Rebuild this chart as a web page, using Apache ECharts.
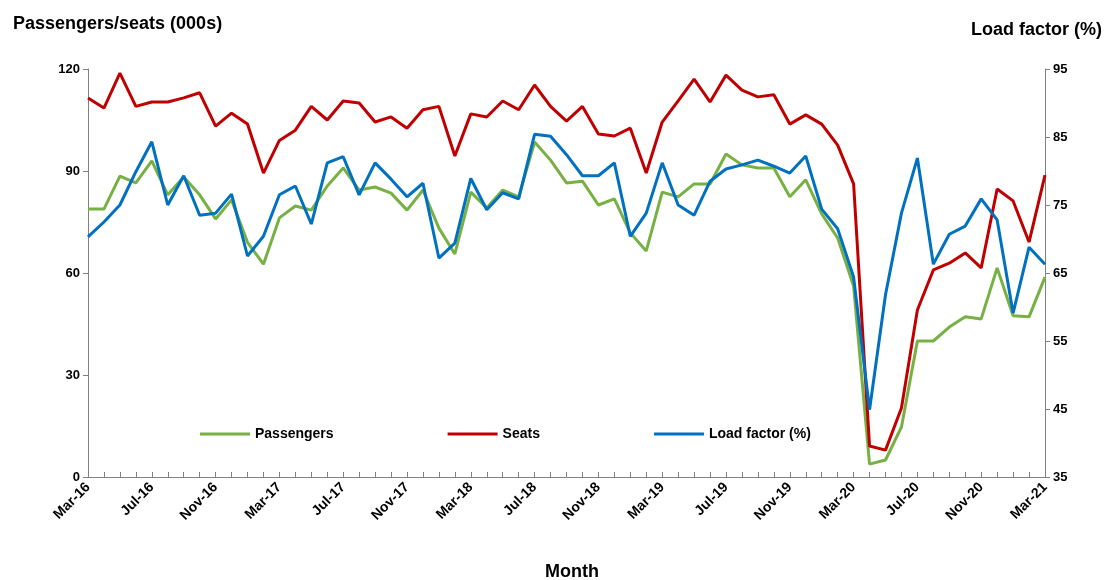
<!DOCTYPE html>
<html>
<head>
<meta charset="utf-8">
<script src="https://cdn.jsdelivr.net/npm/echarts@6/dist/echarts.min.js"></script>
<style>html,body{margin:0;padding:0;background:#fff}#main{width:1113px;height:580px}</style>
</head>
<body>
<div id="main"></div>
<script>
const monthNames = ['Jan', 'Feb', 'Mar', 'Apr', 'May', 'Jun', 'Jul', 'Aug', 'Sep', 'Oct', 'Nov', 'Dec']
const months = []
for (let i = 0; i < 61; i++) {
  let m = (2 + i) % 12
  let y = 16 + Math.floor((2 + i) / 12)
  months.push(monthNames[m] + '-' + y)
}
const passengers = [78.8, 78.8, 88.5, 86.5, 93, 83, 88.2, 83, 75.9, 81.5, 69, 62.6, 76.2, 79.7, 78.5, 85.6, 90.9, 84.4, 85.3, 83.5, 78.5, 84.4, 73.2, 65.6, 83.8, 79.1, 84.4, 82.4, 98.5, 93.2, 86.5, 87, 80, 81.8, 71.8, 66.5, 83.8, 82.4, 86.2, 86.2, 95, 91.8, 90.9, 90.9, 82.4, 87.4, 77.4, 70.3, 56.2, 3.8, 5, 14.7, 40, 40, 44.1, 47.1, 46.5, 61.5, 47.4, 47.1, 58.8]
const seats = [111.5, 108.5, 118.8, 109, 110.3, 110.3, 111.5, 113, 103.2, 107, 103.8, 89.4, 99, 102, 109, 105, 110.6, 110, 104.4, 105.9, 102.6, 108, 109, 94.4, 106.8, 105.9, 110.6, 108, 115.3, 109, 104.7, 109, 100.9, 100.3, 102.6, 89.4, 104.4, 110.6, 117, 110.3, 118.2, 113.8, 111.8, 112.4, 103.8, 106.5, 103.8, 97.6, 86.2, 9.1, 7.9, 20.3, 49.1, 60.9, 62.9, 65.9, 61.5, 84.7, 81.2, 69.1, 88.8]
const loadFactor = [70.3, 72.5, 75, 79.9, 84.3, 75, 79.3, 73.5, 73.8, 76.6, 67.5, 70.4, 76.5, 77.8, 72.2, 81.2, 82.1, 76.5, 81.2, 78.8, 76.2, 78.2, 67.2, 69.4, 78.9, 74.3, 76.8, 75.9, 85.4, 85.1, 82.4, 79.3, 79.3, 81.2, 70.4, 73.8, 81.2, 75, 73.5, 78.5, 80.3, 80.9, 81.6, 80.7, 79.7, 82.2, 74.4, 71.5, 64.4, 44.9, 61.8, 73.8, 81.9, 66.3, 70.7, 71.9, 75.9, 72.8, 59.1, 68.8, 66.3]

const font = 'Liberation Sans, Arial, sans-serif'
const axisStyle = {
  axisLine: { show: true, lineStyle: { color: '#808080' } },
  axisTick: { show: true, length: 5, lineStyle: { color: '#808080' } },
  axisLabel: { color: '#000', fontFamily: font, fontWeight: 'bold', fontSize: 13 },
  splitLine: { show: false }
}
let chart = echarts.init(document.getElementById('main'))
chart.setOption({
  animation: false,
  grid: { left: 88, right: 68, top: 69, bottom: 103 },
  title: [
    { text: 'Passengers/seats (000s)', left: 8, top: 10, textStyle: { fontFamily: font, fontSize: 18, fontWeight: 'bold', color: '#000' } },
    { text: 'Load factor (%)', right: 6, top: 16, textStyle: { fontFamily: font, fontSize: 18, fontWeight: 'bold', color: '#000' } },
    { text: 'Month', left: 540, top: 558, textStyle: { fontFamily: font, fontSize: 18, fontWeight: 'bold', color: '#000' } }
  ],
  legend: {
    left: 195, top: 422, itemGap: 114, itemWidth: 50, itemHeight: 3,
    icon: 'rect',
    textStyle: { fontFamily: font, fontSize: 14, fontWeight: 'bold', color: '#000' },
    data: ['Passengers', 'Seats', 'Load factor (%)']
  },
  xAxis: {
    type: 'category', data: months, boundaryGap: false,
    ...axisStyle,
    axisTick: { show: true, interval: 0, length: 5, inside: true, lineStyle: { color: '#808080' } },
    axisLabel: { ...axisStyle.axisLabel, fontSize: 14, interval: 3, rotate: 45, margin: 8 }
  },
  yAxis: [
    { type: 'value', min: 0, max: 120, interval: 30, ...axisStyle },
    { type: 'value', min: 35, max: 95, interval: 10, position: 'right', ...axisStyle }
  ],
  series: [
    { name: 'Passengers', type: 'line', data: passengers, symbol: 'none', lineStyle: { width: 3, color: '#77B043' }, itemStyle: { color: '#77B043' } },
    { name: 'Seats', type: 'line', data: seats, symbol: 'none', lineStyle: { width: 3, color: '#C00000' }, itemStyle: { color: '#C00000' } },
    { name: 'Load factor (%)', type: 'line', yAxisIndex: 1, data: loadFactor, symbol: 'none', lineStyle: { width: 3, color: '#0070C0' }, itemStyle: { color: '#0070C0' } }
  ]
})
</script>
</body>
</html>
